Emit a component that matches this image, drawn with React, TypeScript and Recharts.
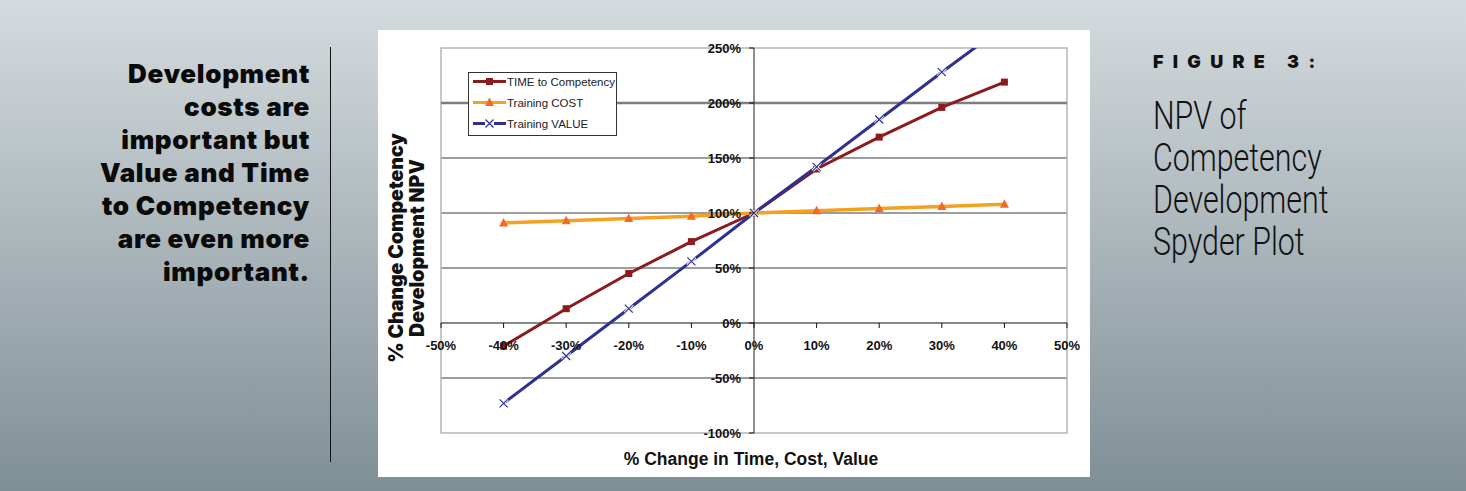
import React from 'react';
import {
  LineChart, Line, XAxis, YAxis, CartesianGrid, ReferenceLine, ReferenceArea, Legend, Label,
} from 'recharts';

// % change applied to each driver
const changes = [-40, -30, -20, -10, 0, 10, 20, 30, 40];
// % change in competency development NPV
const timeToCompetency = [-21, 13, 45, 74, 100, 140, 169, 196, 219];
const trainingCost = [91, 93, 95, 97, 100, 102, 104, 106, 108];
const trainingValue = [-73, -30, 13, 56, 100, 142, 185, 228, 270];

const xTicks = [-50, -40, -30, -20, -10, 0, 10, 20, 30, 40, 50];
const yTicks = [-100, -50, 0, 50, 100, 150, 200, 250];
const gridValues = [-50, 50, 100, 150];

const data = changes.map((c, i) => ({
  change: c,
  time: timeToCompetency[i],
  cost: trainingCost[i],
  value: trainingValue[i],
}));

const W = 712;
const H = 447;
const AXIS_W = 30;
const AXIS_H = 30;
const margin = { top: 18, right: 23, bottom: 44 - AXIS_H, left: 63 - AXIS_W };
const plotL = margin.left + AXIS_W;
const plotT = margin.top;
const plotW = W - plotL - margin.right;
const plotH = H - plotT - margin.bottom - AXIS_H;
// where the axes cross (value 0 on both scales)
const X0 = plotL + (plotW * (0 - xTicks[0])) / (xTicks[xTicks.length - 1] - xTicks[0]);
const Y0 = plotT + (plotH * yTicks[yTicks.length - 1]) / (yTicks[yTicks.length - 1] - yTicks[0]);

const TIME_C = '#8c1b1d';
const COST_C = '#f6a01f';
const COST_MARK = '#f26a24';
const VALUE_C = '#2e3190';

const tickFont = '"Liberation Sans", Arial, sans-serif';
const heavyFont = 'Inter, "Liberation Sans", sans-serif';

const XTick = (props: any) => {
  const { x, payload } = props;
  return (
    <g>
      <line x1={x} x2={x} y1={Y0} y2={Y0 + 5} stroke="#111" strokeWidth={1} />
      <text x={x} y={Y0 + 27} textAnchor="middle" fontSize={13} fontWeight="bold" fontFamily={tickFont} fill="#111">
        {payload.value}%
      </text>
    </g>
  );
};

const YTick = (props: any) => {
  const { y, payload } = props;
  return (
    <g>
      <line x1={X0 - 5} x2={X0} y1={y} y2={y} stroke="#111" strokeWidth={1} />
      <text x={X0 - 13} y={y + 4.5} textAnchor="end" fontSize={13} fontWeight="bold" fontFamily={tickFont} fill="#111">
        {payload.value}%
      </text>
    </g>
  );
};

const SquareDot = (p: any) => (
  <rect key={`sq-${p.index}`} x={p.cx - 3.5} y={p.cy - 3.5} width={7} height={7} fill={TIME_C} />
);

const TriDot = (p: any) => (
  <polygon
    key={`tr-${p.index}`}
    points={`${p.cx},${p.cy - 5} ${p.cx + 4.5},${p.cy + 3.5} ${p.cx - 4.5},${p.cy + 3.5}`}
    fill={COST_MARK}
  />
);

const CrossDot = (p: any) => (
  <g key={`x-${p.index}`}>
    <path d={`M${p.cx - 4},${p.cy - 4}L${p.cx + 4},${p.cy + 4}M${p.cx - 4},${p.cy + 4}L${p.cx + 4},${p.cy - 4}`} stroke="#fff" strokeWidth={3} />
    <path d={`M${p.cx - 4},${p.cy - 4}L${p.cx + 4},${p.cy + 4}M${p.cx - 4},${p.cy + 4}L${p.cx + 4},${p.cy - 4}`} stroke={VALUE_C} strokeWidth={1.2} />
  </g>
);

const legendMarker = (key: string) => {
  if (key === 'time') return <rect x={13} y={3} width={7} height={7} fill={TIME_C} />;
  if (key === 'cost') return <polygon points="16.5,1.5 21,10 12,10" fill={COST_MARK} />;
  return (
    <g>
      <rect x={12} y={2} width={9} height={9} fill="#fff" />
      <path d="M12.5,2.5L20.5,10.5M12.5,10.5L20.5,2.5" stroke={VALUE_C} strokeWidth={1.2} />
    </g>
  );
};

const LegendBox = (props: any) => {
  const { payload = [] } = props;
  return (
    <div
      style={{
        background: '#fff', border: '1px solid #333', width: 149, height: 64, boxSizing: 'border-box',
        fontFamily: tickFont, fontSize: 11.5, color: '#222',
      }}
    >
      {payload.map((entry: any) => (
        <div key={entry.value} style={{ display: 'flex', alignItems: 'center', height: 21, position: 'relative', top: -2 }}>
          <svg width={38} height={13} style={{ marginLeft: 4 }}>
            <line x1={0} x2={33} y1={6.5} y2={6.5} stroke={entry.color} strokeWidth={3} />
            {legendMarker(entry.dataKey)}
          </svg>
          <span style={{ whiteSpace: 'nowrap', marginLeft: -4 }}>{entry.value}</span>
        </div>
      ))}
    </div>
  );
};

const YTitle = () => (
  <g fontFamily={heavyFont} fontWeight={900} fontSize={19.5} fill="#111">
    <text x={18} y={218} textAnchor="middle" dominantBaseline="central" transform="rotate(-90, 18, 218)">
      % Change Competency
    </text>
    <text x={39} y={218} textAnchor="middle" dominantBaseline="central" transform="rotate(-90, 39, 218)">
      Development NPV
    </text>
  </g>
);

const XTitle = () => (
  <text x={373} y={429} textAnchor="middle" dominantBaseline="central" fontFamily={tickFont} fontWeight="bold" fontSize={17.5} fill="#111">
    % Change in Time, Cost, Value
  </text>
);

const NpvChart = () => (
  <LineChart width={W} height={H} data={data} margin={margin}>
    <CartesianGrid vertical={false} horizontalValues={gridValues} stroke="#3a3a3a" strokeWidth={1} />
    <ReferenceLine y={200} stroke="#7d7d7d" strokeWidth={2.5} />
    <ReferenceArea x1={-50} x2={50} y1={-100} y2={250} fill="none" stroke="#b5b5b5" strokeWidth={1.5} />
    <ReferenceLine y={0} stroke="#111" strokeWidth={1.2} />
    <ReferenceLine x={0} stroke="#444" strokeWidth={1.2} />
    <XAxis
      dataKey="change" type="number" domain={[-50, 50]} ticks={xTicks} height={AXIS_H}
      axisLine={false} tickLine={false} tick={XTick} interval={0}
    >
      <Label content={XTitle} />
    </XAxis>
    <YAxis
      type="number" domain={[-100, 250]} ticks={yTicks} width={AXIS_W} allowDataOverflow
      axisLine={false} tickLine={false} tick={YTick} interval={0}
    >
      <Label content={YTitle} />
    </YAxis>
    <Legend
      layout="vertical" align="center" verticalAlign="middle" content={<LegendBox />}
      wrapperStyle={{ left: 90, top: 42, width: 149, height: 64 }}
    />
    <Line dataKey="time" name="TIME to Competency" stroke={TIME_C} strokeWidth={3} dot={SquareDot} isAnimationActive={false} />
    <Line dataKey="cost" name="Training COST" stroke={COST_C} strokeWidth={3.5} dot={TriDot} isAnimationActive={false} />
    <Line dataKey="value" name="Training VALUE" stroke={VALUE_C} strokeWidth={3} dot={CrossDot} isAnimationActive={false} />
  </LineChart>
);

export default function App() {
  return (
    <div
      style={{
        position: 'absolute', left: 0, top: 0, width: 1466, height: 491, overflow: 'hidden',
        background: 'linear-gradient(#d5dbde, #7f8f96)',
      }}
    >
      <div
        style={{
          position: 'absolute', right: 1466 - 310, top: 57, textAlign: 'right',
          fontFamily: heavyFont, fontWeight: 900, fontSize: 26, lineHeight: '33px', letterSpacing: 0.7,
          color: '#0a0a0a', whiteSpace: 'nowrap',
        }}
      >
        Development<br />costs are<br />important but<br />Value and Time<br />to Competency<br />are even more<br />important.
      </div>
      <div style={{ position: 'absolute', left: 330, top: 47, width: 1, height: 415, background: '#111' }} />
      <div style={{ position: 'absolute', left: 378, top: 30, width: W, height: H, background: '#fff' }}>
        <NpvChart />
      </div>
      <div
        style={{
          position: 'absolute', left: 1153, top: 51, fontFamily: heavyFont, fontWeight: 900, fontSize: 18,
          letterSpacing: 9.3, color: '#111', whiteSpace: 'nowrap',
        }}
      >
        FIGURE 3:
      </div>
      <div
        style={{
          position: 'absolute', left: 1153, top: 95, fontFamily: 'Roboto, sans-serif', fontWeight: 300, fontSize: 38,
          lineHeight: '42px', color: '#111', whiteSpace: 'nowrap', transform: 'scaleX(0.8)', transformOrigin: 'left top',
        }}
      >
        NPV of<br />Competency<br />Development<br />Spyder Plot
      </div>
    </div>
  );
}
